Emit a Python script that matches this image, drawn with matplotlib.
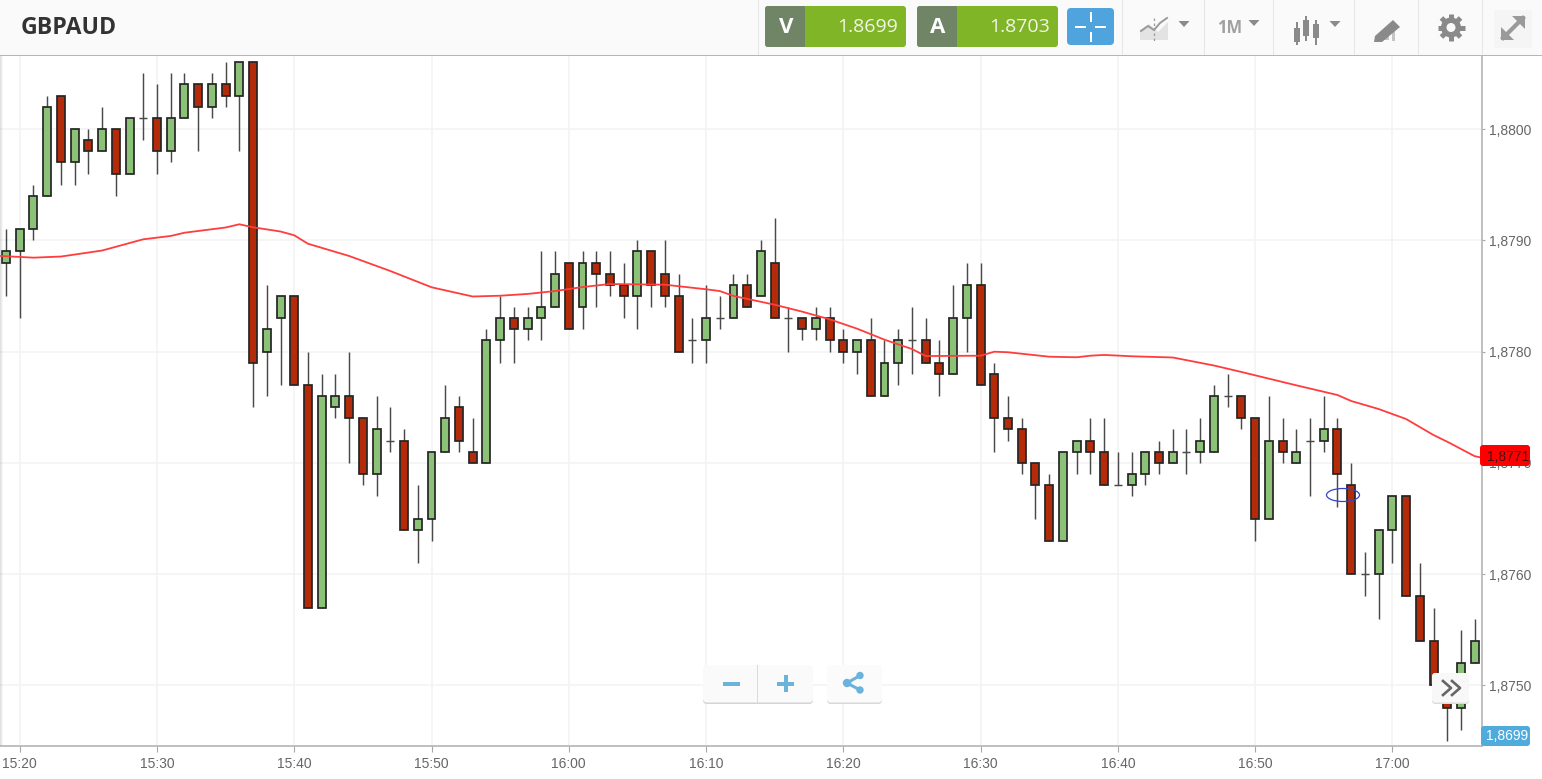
import numpy as np
import matplotlib
matplotlib.use("Agg")
import matplotlib.pyplot as plt
from matplotlib.patches import FancyBboxPatch, Rectangle, Ellipse, Polygon, Circle
from matplotlib.ticker import FuncFormatter

# Prices are given in pips relative to 1.8800
BASE_PRICE = 1.8800
PIP = 0.0001
opens = [-12,-11,-9,-6,3,-3,-1,-2,0,-4,1,1,-2,1,4,2,4,3,6,-20,-17,-15,-23,-43,-25,-24,-26,-31,-28,-28,-36,-35,-29,-25,-29,
         -30,-19,-17,-18,-17,-16,-12,-16,-12,-13,-14,-15,-11,-13,-15,-19,-19,-17,-17,-14,-15,-12,-17,-17,-18,-17,-19,-20,-19,-24,-21,-19,-19,-21,
         -22,-17,-14,-22,-26,-27,-30,-32,-37,-29,-28,-29,-32,-32,-31,-29,-30,-29,-29,-29,-24,-24,-26,-35,-28,-30,-28,-28,-27,-32,-40,-40,-36,-33,-42,-46,-50,-52,-48]
closes = [-11,-9,-6,2,-3,0,-2,0,-4,1,1,-2,1,4,2,4,3,6,-21,-18,-15,-23,-43,-24,-24,-26,-31,-27,-28,-36,-35,-29,-26,-28,-30,
          -19,-17,-18,-17,-16,-13,-18,-12,-13,-14,-15,-11,-14,-15,-20,-19,-17,-17,-14,-16,-11,-17,-17,-18,-17,-19,-20,-19,-24,-21,-19,-19,-21,-22,
          -17,-14,-23,-26,-27,-30,-32,-37,-29,-28,-29,-32,-32,-31,-29,-30,-29,-29,-28,-24,-24,-26,-35,-28,-29,-29,-28,-27,-31,-40,-40,-36,-33,-42,-46,-50,-52,-48,-46]
highs = [-9,-9,-5,3,3,0,0,2,0,1,5,4,5,5,4,5,6,6,6,-14,-15,-15,-20,-22,-22,-20,-26,-24,-25,-27,-32,-29,-23,-24,-26,
         -18,-15,-16,-16,-11,-11,-12,-11,-11,-11,-12,-10,-11,-10,-13,-17,-14,-15,-13,-13,-10,-8,-16,-17,-16,-16,-18,-19,-17,-19,-18,-16,-17,-19,
         -14,-12,-12,-21,-24,-26,-30,-31,-29,-28,-26,-26,-29,-29,-29,-28,-27,-27,-26,-23,-22,-24,-26,-24,-26,-27,-26,-24,-26,-30,-38,-36,-33,-33,-39,-43,-50,-45,-44]
lows = [-15,-17,-10,-6,-5,-5,-4,-2,-6,-4,-1,-4,-3,1,-2,1,2,-2,-25,-24,-23,-23,-43,-43,-26,-30,-32,-33,-29,-36,-39,-37,-29,-29,-30,
        -30,-21,-21,-19,-19,-16,-18,-18,-16,-15,-17,-18,-16,-16,-20,-21,-21,-18,-17,-16,-15,-17,-20,-19,-19,-20,-21,-22,-24,-24,-23,-22,-21,-24,
        -22,-20,-23,-29,-28,-31,-35,-37,-37,-31,-31,-32,-32,-33,-32,-31,-30,-31,-30,-29,-25,-27,-37,-35,-30,-30,-33,-29,-34,-40,-42,-44,-39,-42,-46,-50,-55,-54,-48]

ma_index = [-1,2,4,7,10,12,13,16,17,18,20,21,22,25,28,31,34,36,38,40,42,44,48,51,52,53,56,58,60,62,64,66,67,71,72,73,76,78,79,80,82,85,88,90,94,97,98,100,102,104,105,107,108]
ma_pips = [-11.37,-11.56,-11.46,-10.92,-9.91,-9.61,-9.32,-8.85,-8.56,-8.83,-9.21,-9.55,-10.31,-11.41,-12.76,-14.22,-15.05,-14.98,-14.82,-14.56,-14.2,-13.93,-13.99,-14.4,-14.56,-15.0,-15.79,-16.41,-17.1,-17.94,-18.93,-19.77,-20.4,-20.37,-20.01,-20.06,-20.46,-20.51,-20.37,-20.3,-20.42,-20.53,-21.25,-21.83,-23.03,-23.9,-24.44,-25.16,-26.06,-27.5,-28.1,-29.4,-29.65]

time_labels = ["15:20","15:30","15:40","15:50","16:00","16:10","16:20","16:30","16:40","16:50","17:00"]
time_label_index = [1,11,21,31,41,51,61,71,81,91,101]
price_ticks = [1.8750,1.8760,1.8770,1.8780,1.8790,1.8800]
symbol = "GBPAUD"
bid_price = "1.8699"
ask_price = "1.8703"
ma_last = "1,8771"
bid_axis = "1,8699"

W, H = 1542, 779
GREEN, RED, EDGE, WICK = "#8cc278", "#b42b09", "#252525", "#4a4a4a"
TICKC = "#666666"
SANS = ["Liberation Sans", "DejaVu Sans"]
TICK_FS = 10.0

fig = plt.figure(figsize=(W/100, H/100), dpi=100, facecolor="white")
ax = fig.add_axes([0, (H-746)/H, 1482/W, (746-56)/H])
o, c, h, l = [BASE_PRICE + np.array(v)*PIP for v in (opens, closes, highs, lows)]
idx = np.arange(len(o))
is_up = c > o
is_doji = c == o

ax.vlines(idx, l, h, color=WICK, lw=1.05, zorder=2)
for mask, col in ((is_up, GREEN), ((~is_up) & (~is_doji), RED)):
    ax.bar(idx[mask], np.abs(c-o)[mask], bottom=np.minimum(o, c)[mask], width=0.58,
           color=col, edgecolor=EDGE, linewidth=1.25, zorder=3)
ax.hlines(c[is_doji], idx[is_doji]-0.29, idx[is_doji]+0.29, color=WICK, lw=1.05, zorder=3)
ax.plot(ma_index, BASE_PRICE + np.array(ma_pips)*PIP, color="#ff3d3d", lw=1.3, zorder=4)

ax.set_xlim(-0.437, 107.53)
ax.set_ylim(BASE_PRICE - 55.44*PIP, BASE_PRICE + 6.56*PIP)
ax.set_xticks(time_label_index)
ax.set_xticklabels(time_labels, family=SANS, fontsize=TICK_FS, color=TICKC)
ax.yaxis.tick_right()
ax.set_yticks(price_ticks)
ax.yaxis.set_major_formatter(FuncFormatter(lambda v, _: f"{v:.4f}".replace(".", ",")))
for t in ax.get_yticklabels():
    t.set_family(SANS); t.set_fontsize(TICK_FS); t.set_color(TICKC)
ax.tick_params(axis="x", length=4.3, width=0.8, color="#a8a8a8", pad=3.5)
ax.tick_params(axis="y", length=2.4, width=0.8, color="#a8a8a8", pad=3)
ax.grid(True, color="#f3f3f3", lw=1.1, zorder=0)
ax.set_axisbelow(True)
for s in ("top", "left"):
    ax.spines[s].set_visible(False)
for s in ("right", "bottom"):
    ax.spines[s].set_color("#b4b4b4"); ax.spines[s].set_linewidth(1.2)

# Interface chrome in pixel coordinates
ui = fig.add_axes([0, 0, 1, 1], facecolor="none")
ui.set_xlim(0, W); ui.set_ylim(H, 0); ui.axis("off")

def rect(x0, y0, x1, y1, col, z=5, **kw):
    ui.add_patch(Rectangle((x0, y0), x1-x0, y1-y0, facecolor=col, edgecolor="none", zorder=z, **kw))

def rbox(x0, y0, x1, y1, col, r=3, z=5, ec="none", lw=0):
    ui.add_patch(FancyBboxPatch((x0+r, y0+r), x1-x0-2*r, y1-y0-2*r, boxstyle=f"round,pad={r},rounding_size={r}",
                                facecolor=col, edgecolor=ec, lw=lw, zorder=z, mutation_aspect=1))

def tri(cx, cy, col="#8a8a8a"):
    ui.add_patch(Polygon([(cx-5.5, cy-3), (cx+5.5, cy-3), (cx, cy+3)], facecolor=col, edgecolor="none", zorder=7))

# left edge shade
for i, a in enumerate((0.30, 0.18, 0.08)):
    rect(i, 56, i+1, 746, "#999999", z=5, alpha=a)

# header
rect(0, 0, W, 55, "#fafafa")
rect(0, 54.5, W, 56, "#b6b6b6", z=6)
for xs in (758, 1122, 1204, 1273, 1354, 1418, 1482):
    rect(xs, 0, xs+1, 55, "#e6e6e6", z=6)
ui.text(21, 27.5, symbol, family=["Open Sans", "DejaVu Sans"], weight="bold", fontsize=16.6, color="#333333", va="center", ha="left", zorder=7)

for x0, letter, val in ((765, "V", bid_price), (917, "A", ask_price)):
    rbox(x0, 6, x0+141, 47, "#7fb526", r=3, z=6)
    rbox(x0, 6, x0+43, 47, "#6f8566", r=3, z=6)
    rect(x0+40, 6, x0+43, 47, "#7fb526", z=6)
    rect(x0+37, 6, x0+40, 47, "#6f8566", z=6)
    ui.text(x0+21, 27, letter, family=["Open Sans"], weight="bold", fontsize=16, color="white", ha="center", va="center", zorder=7)
    ui.text(x0+133, 26.5, val, family=["Open Sans"], weight="medium", fontsize=14, color="#f2f6e6", ha="right", va="center", zorder=7)

rbox(1067, 8, 1114, 45, "#4fa4de", r=4, z=6)
for a, b, d, e in ((1075, 26, 1086, 28), (1095, 26, 1106, 28), (1089.8, 12, 1091.6, 22), (1089.8, 32, 1091.6, 42)):
    rect(a, b, d, e, "white", z=7)

# chart-type icon
ui.add_patch(Polygon([(1140, 40), (1140, 30), (1149, 24), (1158, 32), (1168, 22), (1168, 40)], facecolor="#e3e3e3", zorder=7))
ui.plot([1141, 1148, 1154, 1160, 1167], [31, 26, 30, 23, 18], color="#9a9a9a", lw=1.4, zorder=8)
ui.plot([1153.5, 1153.5], [18, 42], color="#9a9a9a", lw=0.9, ls=(0, (2, 2)), zorder=8)
tri(1184, 24)
ui.text(1230, 28, "1M", family=["Open Sans"], weight="bold", fontsize=12, color="#a0a0a0", ha="center", va="center", zorder=7)
tri(1254, 23)
# candle icon
for cx, t, b, bt, bb in ((1297, 28, 42, 22, 45), (1306, 20, 36, 16, 41), (1316, 24, 38, 20, 45)):
    rect(cx-0.8, bt, cx+0.8, bb, "#8a8a8a", z=7)
    rect(cx-3.2, t, cx+3.2, b, "#8a8a8a", z=7)
tri(1335, 24)
# drawing icon
ui.add_patch(Polygon([(1380, 40), (1389, 40), (1389, 35)], facecolor="#c4c4c4", zorder=7))
rect(1392, 30, 1394.5, 41, "#c4c4c4", z=7)
ui.add_patch(Polygon([(1375, 36), (1393, 20), (1400, 27), (1382, 42), (1374, 42)], facecolor="#8a8a8a", zorder=8))
# gear
gx, gy = 1451, 27.5
for ang in np.arange(0, 180, 45):
    dx, dy = np.cos(np.radians(ang))*13.5, np.sin(np.radians(ang))*13.5
    ui.plot([gx-dx, gx+dx], [gy-dy, gy+dy], color="#8a8a8a", lw=3.6, solid_capstyle="butt", zorder=7)
ui.add_patch(Circle((gx, gy), 10, facecolor="#8a8a8a", zorder=7))
ui.add_patch(Circle((gx, gy), 4.5, facecolor="#fafafa", zorder=8))
# expand
rect(1494, 10, 1532, 48, "#f5f5f5", z=6)
ui.plot([1503, 1523], [38, 18], color="#9a9a9a", lw=3, zorder=7)
ui.add_patch(Polygon([(1512, 16), (1525, 16), (1525, 29)], facecolor="#9a9a9a", zorder=7))
ui.add_patch(Polygon([(1501, 27), (1501, 40), (1514, 40)], facecolor="#9a9a9a", zorder=7))

# right-axis badges
rbox(1480, 445, 1530, 466, "#ff0000", r=3, z=6)
ui.text(1508, 456.5, ma_last, family=SANS, fontsize=TICK_FS, color="#4a1010", ha="center", va="center", zorder=7)
rbox(1481, 726, 1530, 746, "#4fabdc", r=3, z=6)
ui.text(1507, 736, bid_axis, family=SANS, fontsize=TICK_FS, color="white", ha="center", va="center", zorder=7)

# cursor ellipse
ui.add_patch(Ellipse((1343, 495), 33, 13, facecolor="none", edgecolor="#3344cc", lw=0.9, zorder=7))

# zoom + share buttons
rbox(703, 667, 813, 704, "#d4d4d4", r=4, z=5)
rbox(703, 665, 813, 702.5, "#fafafa", r=4, z=6)
rect(757, 665, 758, 702.5, "#dadada", z=7)
BLUE = "#6cb3dc"
rect(723, 681.5, 740, 685.5, BLUE, z=7)
rect(777, 681.5, 794, 685.5, BLUE, z=7)
rect(783.5, 675, 787.5, 692, BLUE, z=7)
rbox(827, 667, 882, 704, "#d8d8d8", r=4, z=5)
rbox(827, 665, 882, 702.5, "#fbfbfb", r=4, z=6)
ui.plot([847, 860], [683, 675.5], color=BLUE, lw=2.2, zorder=7)
ui.plot([847, 860], [683, 690], color=BLUE, lw=2.2, zorder=7)
for cx, cy, r in ((847, 683, 4.2), (860, 675.5, 3.7), (860, 690, 3.7)):
    ui.add_patch(Circle((cx, cy), r, facecolor=BLUE, zorder=8))

# scroll button
rbox(1432, 675, 1469, 704, "#dddddd", r=3, z=6)
rbox(1432, 673, 1469, 702.5, "#f8f8f8", r=3, z=6)
for dx in (0, 9):
    ui.plot([1443+dx, 1451+dx, 1443+dx], [681, 688, 695], color="#666666", lw=1.9, zorder=7)

fig.savefig("out.png", dpi=100)
